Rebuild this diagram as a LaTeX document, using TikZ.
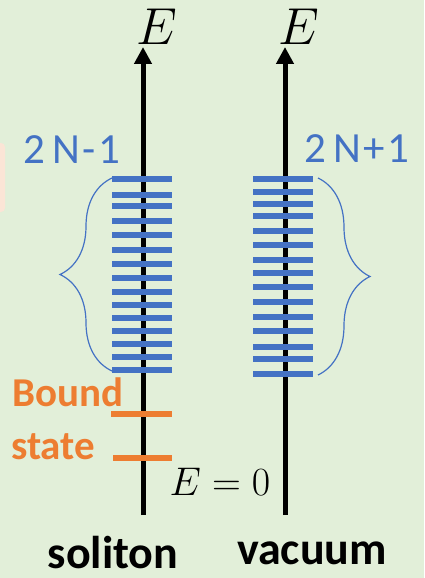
\RequirePackage{fix-cm}
\documentclass[tikz,border=0pt]{standalone}
\usepackage{fontspec}
\usepackage{tikz}
\usetikzlibrary{arrows.meta, positioning, decorations.pathreplacing}
\newfontfamily\calfont{Carlito}
\newfontfamily\spacedfont{Carlito}[LetterSpace=6]
\definecolor{bgGreen}{HTML}{E2EFD9}
\definecolor{lvlBlue}{HTML}{4472C4}
\definecolor{bndOrange}{HTML}{ED7D31}
\definecolor{tabPink}{HTML}{FBE5D6}

\begin{document}
\begin{tikzpicture}[x=1pt, y=-1pt,
  axis/.style={line width=5pt, -{Triangle[length=17pt, width=17pt]}},
  level/.style={line width=6pt, lvlBlue},
  bound/.style={line width=6pt, bndOrange},
  band/.style={lvlBlue, line width=1.2pt,
    decorate, decoration={brace, amplitude=52pt, aspect=0.5}},
  elabel/.style={inner sep=0pt, font=\fontsize{52}{52}\selectfont},
  countlbl/.style={inner sep=0pt, text=lvlBlue, font=\fontsize{43}{43}\spacedfont},
  sidelbl/.style={inner sep=0pt, font=\fontsize{46}{46}\calfont\bfseries}]

  % Background
  \useasboundingbox (0,0) rectangle (424,578);
  \fill[bgGreen] (0,0) rectangle (424,578);
  \fill[tabPink, rounded corners=4pt] (-10,143) rectangle (5,212);

  % Axes
  \coordinate (solBot) at (143,515);
  \coordinate (solTop) at (143,47);
  \coordinate (vacBot) at (285,515);
  \coordinate (vacTop) at (285,47);
  \draw[axis] (solBot) -- (solTop);
  \draw[axis] (vacBot) -- (vacTop);
  \node[elabel, anchor=base] (solE) at (157,45) {$E$};
  \node[elabel, anchor=base] (vacE) at (299,45) {$E$};

  % Continuum levels, soliton
  \foreach \y in {179.3, 194.7, 206.3, 220.7, 234.7, 250, 264.3, 277.7,
                  292.3, 305, 317.7, 331.3, 344, 357.3, 370.3}
    \draw[level] (112,\y) -- (172,\y);

  % Continuum levels, vacuum
  \foreach \y in {179.3, 192.3, 204, 215.7, 230.7, 245.3, 260, 273.3,
                  287.3, 302.3, 316.7, 331.3, 346.7, 359.3, 373.7}
    \draw[level] (253,\y) -- (313,\y);

  % Braces
  \coordinate (solBandLo) at (112,371);
  \coordinate (solBandHi) at (112,178);
  \coordinate (vacBandHi) at (318,178);
  \coordinate (vacBandLo) at (318,375);
  \draw[band] (solBandLo) -- (solBandHi);
  \draw[band] (vacBandHi) -- (vacBandLo);
  \node[countlbl, anchor=base] (solCount) at (72,163) {2\,N-1};
  \node[countlbl, anchor=base] (vacCount) at (357,162) {2\,N+1};

  % Bound states
  \draw[bound] (111,414) -- (172,414);
  \draw[bound] (113,458) -- (172,458);
  \node[sidelbl, text=bndOrange, anchor=base west, font=\fontsize{41}{41}\calfont\bfseries]
    (boundTxt) at (12,406) {Bound};
  \node[sidelbl, text=bndOrange, anchor=base west, font=\fontsize{41}{41}\calfont\bfseries]
    (stateTxt) at (11,459) {state};

  % Zero energy
  \node[elabel, anchor=base, font=\fontsize{40}{40}\selectfont] (zeroE) at (220,495) {$E=0$};

  % Captions
  \node[sidelbl, anchor=base] (solName) at (113,568) {soliton};
  \node[sidelbl, anchor=base] (vacName) at (312,564) {vacuum};
\end{tikzpicture}
\end{document}
